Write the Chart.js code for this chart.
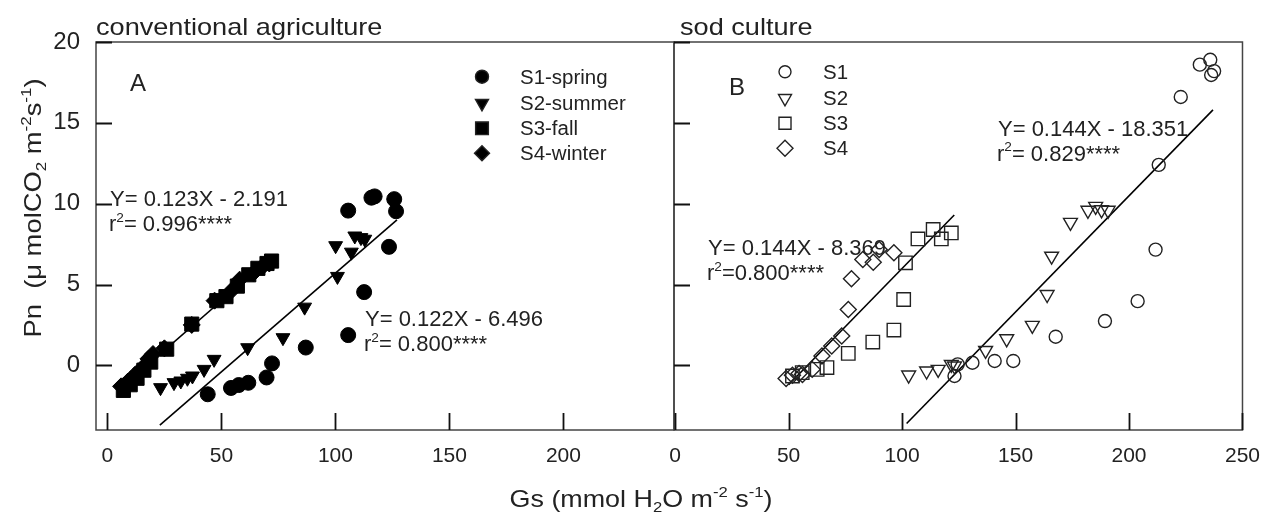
<!DOCTYPE html>
<html><head><meta charset="utf-8">
<script src="https://cdn.jsdelivr.net/npm/chart.js@4.4.1/dist/chart.umd.min.js"></script>
<style>
html,body{margin:0;padding:0;background:#fff;}
#wrap{position:relative;width:1274px;height:515px;}
.c{position:absolute;left:0;top:0;width:1274px;height:515px;}
</style></head><body>
<div id="wrap"><div class="c"><canvas id="cA"></canvas></div><div class="c"><canvas id="cB"></canvas></div></div>
<script>
// ---------- data ----------
const xTicksA = [0, 50, 100, 150, 200];
const xTicksB = [0, 50, 100, 150, 200, 250];
const yTicks = [0, 5, 10, 15, 20];

const labelsA = ['S1-spring', 'S2-summer', 'S3-fall', 'S4-winter'];
const labelsB = ['S1', 'S2', 'S3', 'S4'];

const a_s1 = [[44.0,-1.79],[54.2,-1.40],[57.6,-1.22],[61.8,-1.08],[69.8,-0.75],[72.2,0.12],[87.0,1.10],[105.6,1.87],[112.6,4.53],[105.6,9.57],[115.8,10.37],[117.2,10.45],[123.5,7.33],[125.8,10.28],[126.6,9.53]];
const a_s2 = [[23.3,-1.38],[29.2,-1.07],[32.2,-0.97],[35.1,-0.80],[37.3,-0.66],[42.4,-0.25],[46.8,0.37],[61.5,1.09],[77.0,1.71],[86.5,3.6],[100.1,7.4],[100.9,5.5],[107.0,7.0],[108.5,8.0],[111.2,7.9],[112.9,7.8]];
const a_s3 = [[7,-1.55],[10,-1.2],[13,-0.8],[16,-0.3],[19,0.2],[26,1.0],[37,2.55],[48,4.0],[52,4.25],[57,4.9],[62,5.6],[66,6.0],[70,6.3],[72,6.45]];
const a_s4 = [[6,-1.3],[9,-1.0],[12,-0.6],[15,-0.2],[18,0.4],[20,0.7],[25,1.05],[37,2.5],[47,4.0],[55,4.7],[58,5.3],[64,5.7],[68,6.1],[71,6.3]];
const a_fit1 = [[4.5,-1.6],[72,6.7]];
const a_fit2 = [[23,-3.7],[127,9.0]];

const b_s1 = [[123.1,-0.66],[124.5,0.06],[131,0.16],[140.8,0.27],[149,0.27],[167.7,1.77],[189.4,2.74],[203.8,3.97],[211.7,7.16],[213.1,12.4],[222.8,16.6],[231.2,18.6],[235.8,18.9],[236.2,17.96],[237.5,18.2]];
const b_s2 = [[102.9,-0.6],[110.8,-0.35],[115.9,-0.25],[121.7,0.06],[123.1,-0.04],[136.8,0.92],[146.1,1.64],[157.4,2.47],[163.9,4.38],[165.9,6.75],[174.2,8.84],[181.9,9.59],[185.3,9.83],[187.9,9.62],[190.8,9.59]];
const b_s3 = [[51.7,-0.66],[56,-0.45],[62.6,-0.25],[66.9,-0.14],[76.3,0.74],[87.1,1.44],[96.4,2.18],[100.7,4.07],[101.5,6.34],[107,7.82],[113.7,8.4],[117.3,7.82],[121.7,8.19]];
const b_s4 = [[48.9,-0.82],[51.7,-0.62],[54.6,-0.51],[56.1,-0.56],[60.4,-0.25],[64.7,0.58],[69,1.19],[73.4,1.81],[76.3,3.46],[77.7,5.35],[82.7,6.54],[87.3,6.38],[89.9,7.16],[96.4,6.96]];
const b_fit1 = [[50,-1.2],[123,9.3]];
const b_fit2 = [[102,-3.6],[237,15.8]];

// ---------- helpers ----------
const FONT = '"Liberation Sans", Arial, sans-serif';
const TXT = '#222';
const pts = arr => arr.map(p => ({x: p[0], y: p[1]}));
function font(sz){ return sz + 'px ' + FONT; }
function richWidth(ctx, segs, size){
  let w = 0;
  for (const s of segs){ ctx.font = font((s.sub||s.sup) ? size*0.62 : size); w += ctx.measureText(s.t).width; }
  return w;
}
// draws segments; x,y = anchor (baseline); sx = horizontal stretch
function drawRich(ctx, segs, x, y, size, align, sx){
  sx = sx || 1;
  const w = richWidth(ctx, segs, size);
  ctx.save();
  ctx.translate(x, y);
  ctx.scale(sx, 1);
  let cx = align === 'center' ? -w/2 : 0;
  ctx.textAlign = 'left'; ctx.textBaseline = 'alphabetic';
  for (const s of segs){
    const sz = (s.sub||s.sup) ? size*0.62 : size;
    ctx.font = font(sz);
    const dy = s.sup ? -size*0.42 : (s.sub ? size*0.22 : 0);
    ctx.fillText(s.t, cx, dy);
    cx += ctx.measureText(s.t).width;
  }
  ctx.restore();
}
function marker(ctx, style, x, y, r, fill, rot){
  ctx.save();
  ctx.lineWidth = 1.4; ctx.strokeStyle = '#222'; ctx.fillStyle = fill ? '#000' : 'rgba(0,0,0,0)';
  Chart.helpers.drawPoint(ctx, {pointStyle: style, radius: r, rotation: rot || 0, borderWidth: 1.4}, x, y);
  ctx.restore();
}
function frameAndTicks(chart, yTickMarks){
  const {ctx, chartArea: a, scales} = chart;
  ctx.save();
  ctx.strokeStyle = '#444'; ctx.lineWidth = 1.5;
  ctx.strokeRect(a.left, a.top, a.right - a.left, a.bottom - a.top);
  ctx.strokeStyle = '#111'; ctx.lineWidth = 1.8;
  ctx.beginPath();
  for (const t of scales.x.ticks){
    const px = Math.round(scales.x.getPixelForValue(t.value)) + 0.5;
    ctx.moveTo(px, a.bottom); ctx.lineTo(px, a.bottom - 17);
  }
  if (yTickMarks){
    for (const v of yTicks){
      const py = Math.round(scales.y.getPixelForValue(v)) + 0.5;
      ctx.moveTo(a.left, py); ctx.lineTo(a.left + 16, py);
    }
  }
  ctx.stroke();
  ctx.restore();
}

function pointDs(label, data, style, r, fill, rot){
  return {label, data: pts(data), pointStyle: style, pointRadius: r, pointHoverRadius: r,
    pointRotation: rot || 0, backgroundColor: fill ? '#000' : 'rgba(0,0,0,0)',
    borderColor: fill ? '#000' : '#222', pointBorderWidth: fill ? 1 : 1.4, showLine: false, order: 1};
}
function lineDs(data){
  return {type: 'line', label: 'fit', data: pts(data), showLine: true, pointRadius: 0, borderColor: '#000',
    borderWidth: 1.6, fill: false, order: 10};
}
function setTicks(list){ return function(scale){ scale.ticks = list.map(v => ({value: v})); }; }

// ---------- Chart A ----------
const plugA = {
  id: 'annA',
  afterDraw(chart){
    const {ctx} = chart;
    frameAndTicks(chart, true);
    ctx.save();
    ctx.fillStyle = TXT;
    drawRich(ctx, [{t: 'conventional agriculture'}], 96, 35, 24, 'left', 1.13);
    drawRich(ctx, [{t: 'A'}], 130, 91, 24, 'left');
    // legend
    const styles = [['circle', 6.5, 0], ['triangle', 7.5, 180], ['rect', 9, 0], ['rectRot', 7.5, 0]];
    const rows = [76.7, 103.3, 128.3, 153.3];
    labelsA.forEach((l, i) => {
      marker(ctx, styles[i][0], 482, rows[i], styles[i][1], true, styles[i][2]);
      ctx.fillStyle = TXT;
      drawRich(ctx, [{t: l}], 520, rows[i] + 7, 19.5, 'left', 1.05);
    });
    // equations
    drawRich(ctx, [{t: 'Y= 0.123X - 2.191'}], 110, 206, 22, 'left');
    drawRich(ctx, [{t: 'r'}, {t: '2', sup: true}, {t: '= 0.996****'}], 109, 231, 22, 'left');
    drawRich(ctx, [{t: 'Y= 0.122X - 6.496'}], 365, 326, 22, 'left');
    drawRich(ctx, [{t: 'r'}, {t: '2', sup: true}, {t: '= 0.800****'}], 364, 351, 22, 'left');
    // x title
    drawRich(ctx, [{t: 'Gs (mmol H'}, {t: '2', sub: true}, {t: 'O m'}, {t: '-2', sup: true}, {t: ' s'}, {t: '-1', sup: true}, {t: ')'}], 641, 507, 24, 'center', 1.12);
    // y title
    ctx.translate(41, 208);
    ctx.rotate(-Math.PI / 2);
    drawRich(ctx, [{t: 'Pn  ('}, {t: 'μ'}, {t: ' molCO'}, {t: '2', sub: true}, {t: ' m'}, {t: '-2', sup: true}, {t: 's'}, {t: '-1', sup: true}, {t: ')'}], 0, 0, 24, 'center', 1.14);
    ctx.restore();
  }
};

new Chart(document.getElementById('cA'), {
  type: 'scatter',
  data: {datasets: [
    pointDs(labelsA[0], a_s1, 'circle', 7.5, true),
    pointDs(labelsA[1], a_s2, 'triangle', 8, true, 180),
    pointDs(labelsA[2], a_s3, 'rect', 10, true),
    pointDs(labelsA[3], a_s4, 'rectRot', 8.5, true),
    lineDs(a_fit1), lineDs(a_fit2)
  ]},
  options: {
    responsive: true, maintainAspectRatio: false, animation: false,
    layout: {padding: {left: 0, right: 600, top: 42, bottom: 0}},
    plugins: {legend: {display: false}, tooltip: {enabled: false}},
    scales: {
      x: {type: 'linear', min: -5, max: 248.5, afterBuildTicks: setTicks(xTicksA),
          afterFit(s){ s.height = 85; },
          grid: {display: false, drawTicks: false}, border: {display: false},
          ticks: {padding: 14, color: TXT, font: {family: FONT, size: 21}}},
      y: {type: 'linear', min: -4, max: 20, afterBuildTicks: setTicks(yTicks),
          afterFit(s){ s.width = 96; },
          grid: {display: false, drawTicks: false}, border: {display: false},
          ticks: {padding: 16, color: TXT, font: {family: FONT, size: 24}}}
    }
  },
  plugins: [plugA]
});

// ---------- Chart B ----------
const plugB = {
  id: 'annB',
  afterDraw(chart){
    const {ctx} = chart;
    frameAndTicks(chart, true);
    ctx.save();
    ctx.fillStyle = TXT;
    drawRich(ctx, [{t: 'sod culture'}], 680, 35, 24, 'left', 1.13);
    drawRich(ctx, [{t: 'B'}], 729, 95, 24, 'left');
    const styles = [['circle', 6, 0], ['triangle', 7.5, 180], ['rect', 8.5, 0], ['rectRot', 8, 0]];
    const rows = [71.7, 98.3, 123.3, 148.3];
    labelsB.forEach((l, i) => {
      marker(ctx, styles[i][0], 785, rows[i], styles[i][1], false, styles[i][2]);
      ctx.fillStyle = TXT;
      drawRich(ctx, [{t: l}], 823, rows[i] + 7, 19.5, 'left', 1.05);
    });
    drawRich(ctx, [{t: 'Y= 0.144X - 8.369'}], 708, 255, 22, 'left');
    drawRich(ctx, [{t: 'r'}, {t: '2', sup: true}, {t: '=0.800****'}], 707, 280, 22, 'left');
    drawRich(ctx, [{t: 'Y= 0.144X - 18.351'}], 998, 135.5, 22, 'left');
    drawRich(ctx, [{t: 'r'}, {t: '2', sup: true}, {t: '= 0.829****'}], 997, 160.5, 22, 'left');
    ctx.restore();
  }
};

new Chart(document.getElementById('cB'), {
  type: 'scatter',
  data: {datasets: [
    pointDs(labelsB[0], b_s1, 'circle', 6.5, false),
    pointDs(labelsB[1], b_s2, 'triangle', 8, false, 180),
    pointDs(labelsB[2], b_s3, 'rect', 9.5, false),
    pointDs(labelsB[3], b_s4, 'rectRot', 8, false),
    lineDs(b_fit1), lineDs(b_fit2)
  ]},
  options: {
    responsive: true, maintainAspectRatio: false, animation: false,
    layout: {padding: {left: 674, right: 21, top: 42, bottom: 0}},
    plugins: {legend: {display: false}, tooltip: {enabled: false}},
    scales: {
      x: {type: 'linear', min: -0.5, max: 250, afterBuildTicks: setTicks(xTicksB),
          afterFit(s){ s.height = 85; },
          grid: {display: false, drawTicks: false}, border: {display: false},
          ticks: {padding: 14, color: TXT, font: {family: FONT, size: 21}}},
      y: {type: 'linear', display: false, min: -4, max: 20}
    }
  },
  plugins: [plugB]
});
</script>
</body></html>
